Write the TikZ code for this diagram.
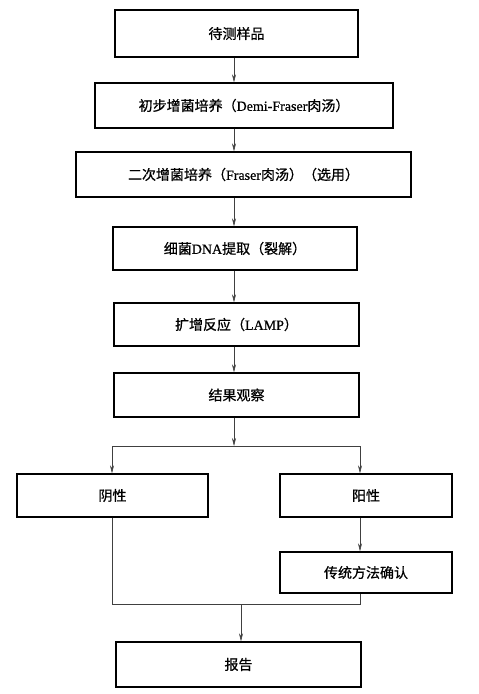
\documentclass[tikz,border=0pt]{standalone}
\usepackage{fontspec}
\usepackage{tikz}
\setmainfont{Liberation Serif}[FakeBold=0.6]
\newfontfamily\cjk{Noto Sans CJK SC}[FakeBold=0.7]
\usetikzlibrary{arrows.meta}

\begin{document}
\begin{tikzpicture}[x=1pt,y=-1pt,>={Stealth[length=8pt,width=4pt]},semithick]
  \tikzstyle{box}=[draw,line width=1.3pt,inner sep=0pt,align=center,
                   font=\cjk\fontsize{14}{16}\selectfont]
  \tikzstyle{link}=[line width=0.6pt,draw=black!75]

  \useasboundingbox (0,0) rectangle (479,694);

  \node[box,minimum width=243pt,minimum height=47pt] (sample)  at (236.5,33.5) {待测样品};
  \node[box,minimum width=298pt,minimum height=45pt] (enrich1) at (244,105.5)  {初步增菌培养（\textrm{Demi-Fraser}肉汤）};
  \node[box,minimum width=335pt,minimum height=45pt] (enrich2) at (243.5,174.5) {二次增菌培养（\textrm{Fraser}肉汤）（选用）};
  \node[box,minimum width=244pt,minimum height=43pt] (dna)     at (235,248.5)  {细菌\textrm{DNA}提取（裂解）};
  \node[box,minimum width=245pt,minimum height=43pt] (lamp)    at (236.5,324.5) {扩增反应（\textrm{LAMP}）};
  \node[box,minimum width=245pt,minimum height=44pt] (observe) at (236.5,395)  {结果观察};
  \node[box,minimum width=191pt,minimum height=43pt] (neg)     at (112.5,495.5) {阴性};
  \node[box,minimum width=172pt,minimum height=43pt] (pos)     at (366,495.5)  {阳性};
  \node[box,minimum width=172pt,minimum height=41pt] (confirm) at (366,572.5)  {传统方法确认};
  \node[box,minimum width=245pt,minimum height=45pt] (report)  at (238.5,664.5) {报告};

  % main line and branch points
  \coordinate (main)  at (234,0);
  \coordinate (split) at (234,446);
  \coordinate (lb)    at (112,446);
  \coordinate (rb)    at (360,446);
  \coordinate (merge) at (241,604);

  \draw[link,->] (sample.south -| main)  -- (enrich1.north -| main);
  \draw[link,->] (enrich1.south -| main) -- (enrich2.north -| main);
  \draw[link,->] (enrich2.south -| main) -- (dna.north -| main);
  \draw[link,->] (dna.south -| main)     -- (lamp.north -| main);
  \draw[link,->] (lamp.south -| main)    -- (observe.north -| main);
  \draw[link,->] (observe.south -| main) -- (split);

  \draw[link] (lb) -- (rb);
  \draw[link,->] (lb) -- (lb |- neg.north);
  \draw[link,->] (rb) -- (rb |- pos.north);
  \draw[link,->] (rb |- pos.south) -- (rb |- confirm.north);

  \draw[link] (lb |- neg.south) -- (lb |- merge) -- (rb |- merge) -- (rb |- confirm.south);
  \draw[link,->] (merge) -- (merge |- report.north);
\end{tikzpicture}
\end{document}
